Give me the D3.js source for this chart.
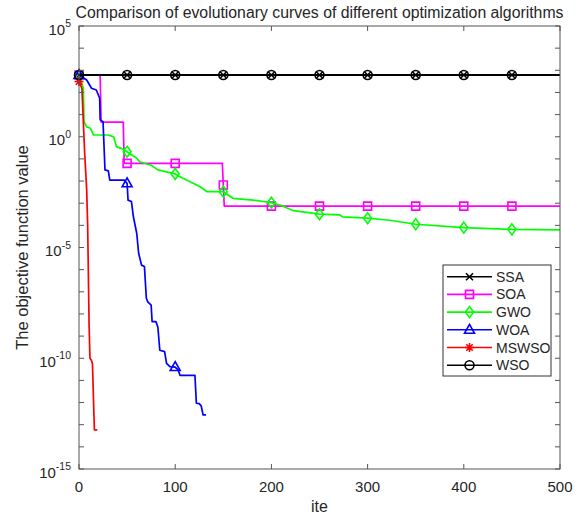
<!DOCTYPE html>
<html>
<head>
<meta charset="utf-8">
<script src="https://cdn.jsdelivr.net/npm/d3@7"></script>
<style>
  body { margin: 0; background: #fff; }
  svg { display: block; font-family: "Liberation Sans", Arial, sans-serif; }
  .tick-label { fill: #262626; }
</style>
</head>
<body>
<svg width="586" height="517"></svg>
<script>
// series as [iteration, objective value]
const SSA = [[0, 610], [500, 610]];
const SOA = [[0, 610], [22, 610], [23, 4.6], [46, 4.6], [47, 0.063], [149, 0.063],
  [150, 0.0066], [151, 7.4e-4], [500, 7.4e-4]];
const GWO = [[0, 610], [4.5, 155], [5.2, 4.8], [8, 2.8], [12, 2.4], [15, 1.2], [30, 1.2],
  [36, 1.0], [39, 0.35], [44, 0.3], [50, 0.21], [53, 0.17], [60, 0.107], [63, 0.074],
  [75, 0.052], [82, 0.032], [100, 0.021], [107, 0.014], [126, 0.0055], [133, 0.0033],
  [150, 0.0033], [160, 0.00166], [181, 0.00138], [200, 0.00105], [209, 8.3e-4],
  [223, 4.6e-4], [250, 3.2e-4], [271, 3.0e-4], [274, 2.4e-4], [300, 2.1e-4],
  [323, 1.7e-4], [350, 1.12e-4], [400, 7.9e-5], [450, 6.6e-5], [500, 6.3e-5]];
const WOA = [[0, 610], [8, 363], [13, 155], [18, 129], [21.5, 55], [22, 5.8], [25, 4.8],
  [27, 0.032], [30.5, 0.029], [32, 0.011], [47, 0.011], [50, 0.0079], [51, 0.00138],
  [54.5, 0.0012], [56.5, 2.5e-4], [60, 4.4e-5], [62, 5.5e-6], [65, 1.6e-6], [68, 1.4e-6],
  [70, 5.1e-8], [71.5, 3.5e-8], [75, 2.5e-8], [76, 4.5e-9], [80, 4.5e-9], [82, 2.5e-9],
  [84, 2.3e-10], [89, 2.0e-10], [91, 5.9e-11], [94.5, 4.2e-11], [100, 4.0e-11],
  [103, 3.0e-11], [105, 1.7e-11], [120.5, 1.7e-11], [122, 9.3e-13], [125, 8.9e-13],
  [127, 7.1e-13], [129, 2.75e-13], [132, 2.75e-13]];
const MSWSO = [[0, 310], [3, 155], [4.5, 4.8], [6, 0.15], [8, 0.004], [9, 1e-4], [10, 1e-7],
  [10.5, 3e-9], [11.4, 1e-10], [13, 8e-11], [14, 5.5e-11], [16, 5.8e-14], [19, 5.8e-14]];
const WSO = [[0, 610], [500, 610]];

const seriesNames = ['SSA', 'SOA', 'GWO', 'WOA', 'MSWSO', 'WSO'];
const seriesColors = ['#000000', '#ff00ff', '#00ff00', '#0000ff', '#ff0000', '#000000'];
const markerIters = [0, 50, 100, 150, 200, 250, 300, 350, 400, 450];
const xTicks = [0, 100, 200, 300, 400, 500];
const yLabelExps = [5, 0, -5, -10, -15];

const markerPaths = {
  SSA: 'M-3.5,-3.5L3.5,3.5M-3.5,3.5L3.5,-3.5',
  SOA: 'M-4,-4H4V4H-4Z',
  GWO: 'M0,-5.5L4,0L0,5.5L-4,0Z',
  WOA: 'M0,-5.5L5,3.5H-5Z',
  MSWSO: 'M0,-4.5V4.5M-4.5,0H4.5M-3.2,-3.2L3.2,3.2M-3.2,3.2L3.2,-3.2',
  WSO: 'M4.5,0A4.5,4.5 0 1,1 -4.5,0A4.5,4.5 0 1,1 4.5,0Z'
};

(function (d3) {
  'use strict';
  const svg = d3.select('svg');
  const left = 79, right = 560, top = 26, bottom = 469;

  const x = d3.scaleLinear().domain([0, 500]).range([left, right]);
  const y = d3.scaleLog().domain([1e-15, 1e5]).range([bottom, top]);

  const allData = [SSA, SOA, GWO, WOA, MSWSO, WSO];

  svg.append('defs').append('clipPath').attr('id', 'clip')
    .append('rect').attr('x', left).attr('y', top)
    .attr('width', right - left).attr('height', bottom - top);

  const line = d3.line().x(d => x(d[0])).y(d => y(d[1]));

  allData.forEach((data, i) => {
    const name = seriesNames[i];
    const color = seriesColors[i];
    const g = svg.append('g');
    g.append('path')
      .attr('clip-path', 'url(#clip)')
      .attr('d', line(data))
      .attr('fill', 'none')
      .attr('stroke', color)
      .attr('stroke-width', name === 'SSA' || name === 'WSO' ? 2 : 1.7)
      .attr('stroke-linejoin', 'round');
    const last = data[data.length - 1][0];
    const pts = markerIters.filter(m => m <= last).map(m => {
      const idx = d3.bisector(d => d[0]).right(data, m) - 1;
      return [m, data[idx][1]];
    });
    g.selectAll('path.mk').data(pts).enter().append('path')
      .attr('class', 'mk')
      .attr('transform', d => `translate(${x(d[0])},${y(d[1])})`)
      .attr('d', markerPaths[name])
      .attr('fill', 'none')
      .attr('stroke', color)
      .attr('stroke-width', 1.6);
  });

  // axes box
  const axisColor = '#555';
  svg.append('rect')
    .attr('x', left).attr('y', top)
    .attr('width', right - left).attr('height', bottom - top)
    .attr('fill', 'none').attr('stroke', axisColor).attr('stroke-width', 1);

  const tickLen = 5;
  xTicks.forEach(t => {
    svg.append('line').attr('x1', x(t)).attr('x2', x(t))
      .attr('y1', bottom).attr('y2', bottom - tickLen).attr('stroke', axisColor);
    svg.append('line').attr('x1', x(t)).attr('x2', x(t))
      .attr('y1', top).attr('y2', top + tickLen).attr('stroke', axisColor);
    svg.append('text').attr('class', 'tick-label')
      .attr('x', x(t)).attr('y', bottom + 23)
      .attr('text-anchor', 'middle').attr('font-size', 15)
      .text(t);
  });

  d3.range(-15, 6).forEach(e => {
    const v = Math.pow(10, e);
    svg.append('line').attr('x1', left).attr('x2', left + tickLen)
      .attr('y1', y(v)).attr('y2', y(v)).attr('stroke', axisColor);
    svg.append('line').attr('x1', right).attr('x2', right - tickLen)
      .attr('y1', y(v)).attr('y2', y(v)).attr('stroke', axisColor);
  });

  yLabelExps.forEach(e => {
    const t = svg.append('text').attr('class', 'tick-label')
      .attr('x', 71).attr('y', y(Math.pow(10, e)) + 8.5)
      .attr('text-anchor', 'end').attr('font-size', 15);
    t.append('tspan').text('10');
    t.append('tspan').attr('dy', -7.5).attr('font-size', 10.5).text(e);
  });

  // title and axis labels
  svg.append('text').attr('class', 'tick-label')
    .attr('x', (left + right) / 2).attr('y', 18)
    .attr('text-anchor', 'middle').attr('font-size', 15.8)
    .text('Comparison of evolutionary curves of different optimization algorithms');

  svg.append('text').attr('class', 'tick-label')
    .attr('x', (left + right) / 2).attr('y', 512)
    .attr('text-anchor', 'middle').attr('font-size', 16)
    .text('ite');

  svg.append('text').attr('class', 'tick-label')
    .attr('transform', `translate(28,${(top + bottom) / 2}) rotate(-90)`)
    .attr('text-anchor', 'middle').attr('font-size', 16.5)
    .text('The objective function value');

  // legend
  const legendG = svg.append('g').attr('transform', 'translate(443,265)');
  legendG.append('rect')
    .attr('width', 108).attr('height', 111)
    .attr('fill', '#fff').attr('stroke', '#333').attr('stroke-width', 1);
  seriesNames.forEach((name, i) => {
    const row = legendG.append('g').attr('transform', `translate(0,${11.7 + i * 17.7})`);
    row.append('line').attr('x1', 4).attr('x2', 49)
      .attr('stroke', seriesColors[i]).attr('stroke-width', 1.6);
    row.append('path').attr('transform', 'translate(26.5,0)')
      .attr('d', markerPaths[name]).attr('fill', 'none')
      .attr('stroke', seriesColors[i]).attr('stroke-width', 1.6);
    row.append('text').attr('x', 53).attr('dy', '0.36em')
      .attr('font-size', 14).attr('fill', '#262626').text(name);
  });
}(d3));
</script>
</body>
</html>
